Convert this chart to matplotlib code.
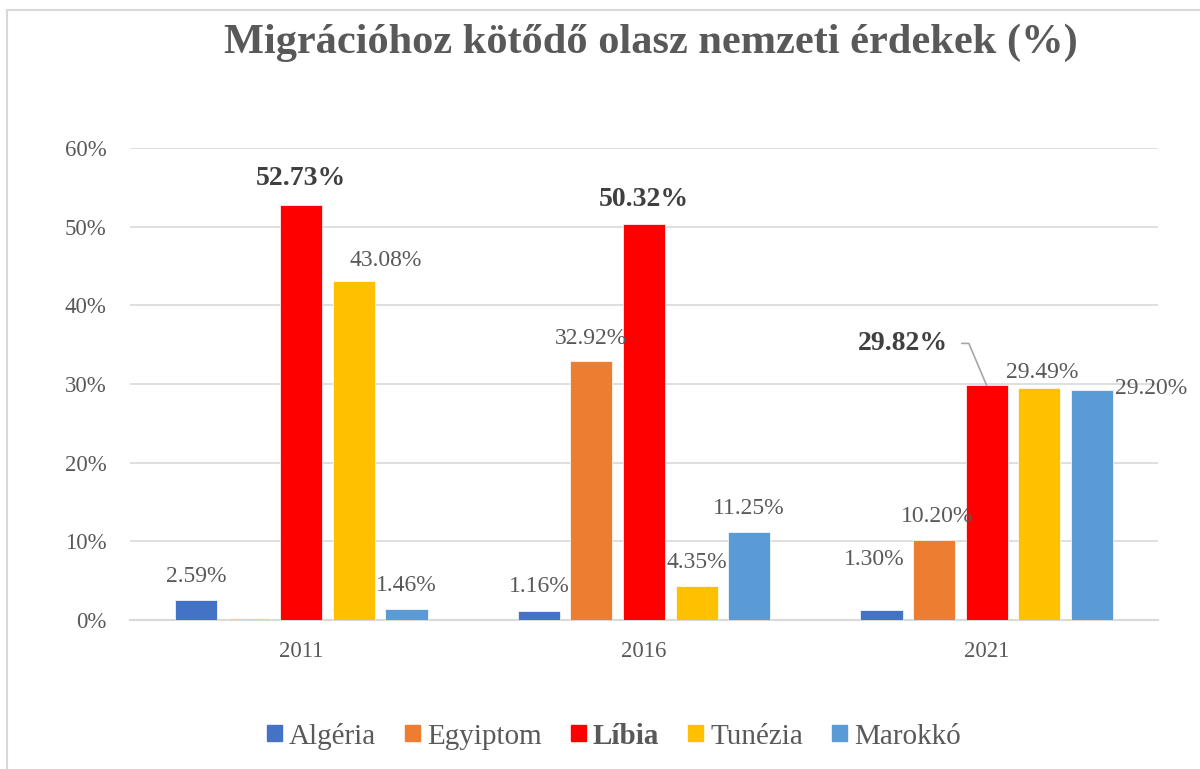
import matplotlib
matplotlib.use("Agg")
import matplotlib.pyplot as plt
from matplotlib.patches import Rectangle
from matplotlib.ticker import FuncFormatter

years = ["2011", "2016", "2021"]
countries = ["Algéria", "Egyiptom", "Líbia", "Tunézia", "Marokkó"]
algeria = [2.59, 1.16, 1.30]
egypt = [0.30, 32.92, 10.20]
libya = [52.73, 50.32, 29.82]
tunisia = [43.08, 4.35, 29.49]
morocco = [1.46, 11.25, 29.20]
series = [algeria, egypt, libya, tunisia, morocco]
colors = ["#4472C4", "#ED7D31", "#FF0000", "#FFC000", "#5B9BD5"]

# label offsets (pixels) per country per year, None = no label
offsets = [
    [(0, 23), (0, 24), (-7, 50)],
    [None, (0, 23), (3, 23)],
    [(0, 27), (0, 25), None],
    [(32, 21), (0, 23), (3, 16)],
    [(0, 23), (0, 23), (59, 2)],
]

FONT = "Liberation Serif"
GREY = "#595959"

fig = plt.figure(figsize=(12, 7.69), dpi=100)
fig.patches.append(Rectangle((7 / 1200, -0.1), 1.2, 1 - 10 / 769 + 0.1,
                             transform=fig.transFigure, fill=False,
                             edgecolor="#D9D9D9", lw=1.5))
ax = fig.add_axes([130 / 1200, 1 - 620 / 769, 1028 / 1200, 472 / 769])

step, width = 0.1535, 0.123
for i, (vals, col) in enumerate(zip(series, colors)):
    xs = [j + (i - 2) * step for j in range(len(years))]
    bars = ax.bar(xs, vals, width=width, color=col, zorder=3,
                  edgecolor="white", linewidth=0.5)
    if i == 1:
        bars[0].set_facecolor("#F8CBAD")
    for j, v in enumerate(vals):
        off = offsets[i][j]
        if off is None:
            continue
        bold = i == 2
        ax.annotate(f"{v:.2f}%", (xs[j], v), xytext=off,
                    textcoords="offset pixels", ha="center", va="center",
                    fontsize=20 if bold else 17,
                    fontweight="bold" if bold else "normal",
                    family=FONT, color="#404040" if bold else GREY, zorder=5)

# Libya 2021 label with leader line
ax.annotate(f"{libya[2]:.2f}%", (2, libya[2]), xytext=(-84, 42),
            textcoords="offset pixels", ha="center", va="center",
            fontsize=20, fontweight="bold", family=FONT, color="#404040",
            arrowprops=dict(arrowstyle="-", color="#A6A6A6", lw=1.2,
                            connectionstyle="angle,angleA=0,angleB=113,rad=0",
                            shrinkA=8, shrinkB=0))

ax.set_xlim(-0.5, 2.5)
ax.set_ylim(0, 60)
ax.set_yticks(range(0, 61, 10))
ax.yaxis.set_major_formatter(FuncFormatter(lambda v, p: f"{v:.0f}%"))
ax.set_xticks(range(len(years)))
ax.set_xticklabels(years)
ax.grid(axis="y", color="#D9D9D9", lw=1.2, zorder=0)
for s in ["top", "right", "left"]:
    ax.spines[s].set_visible(False)
ax.spines["bottom"].set_color("#D9D9D9")
ax.spines["bottom"].set_linewidth(1.5)
ax.tick_params(length=0, labelsize=16.5, labelcolor=GREY)
ax.tick_params(axis="x", pad=15)
ax.tick_params(axis="y", pad=17)
for lab in ax.get_xticklabels() + ax.get_yticklabels():
    lab.set_family(FONT)

fig.text(651 / 1200, 1 - 43 / 769, "Migrációhoz kötődő olasz nemzeti érdekek (%)",
         ha="center", va="center", fontsize=30.5, fontweight="bold",
         family=FONT, color=GREY)

proxies = [Rectangle((0, 0), 1, 1, color=c) for c in colors]
leg = fig.legend(proxies, countries, loc="center", ncol=5,
                 bbox_to_anchor=(614 / 1200, 1 - 736 / 769), frameon=False,
                 prop={"family": FONT, "size": 21}, handlelength=0.5,
                 handleheight=0.5, handletextpad=0.25, columnspacing=1.0)
for t in leg.get_texts():
    t.set_color(GREY)
leg.get_texts()[2].set_fontweight("bold")

fig.savefig("out.png", dpi=100)
